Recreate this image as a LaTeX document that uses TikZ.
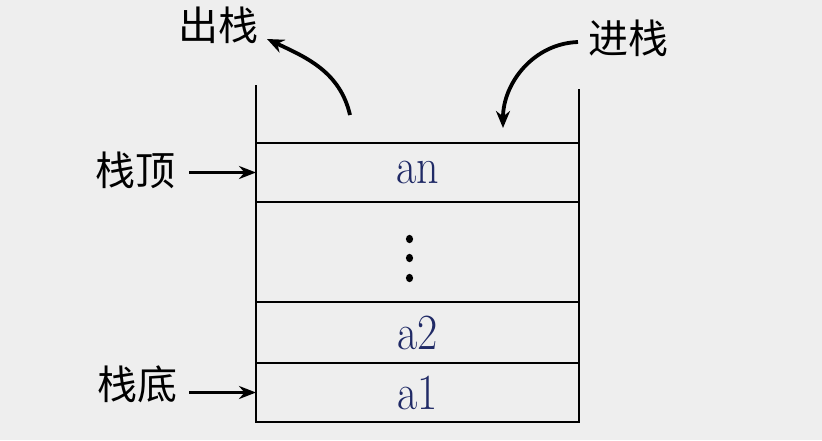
\documentclass[tikz,border=0pt]{standalone}
\usepackage{fontspec}
\newfontfamily\cjk{Noto Sans CJK SC}
\usetikzlibrary{positioning,arrows.meta}
\definecolor{bggray}{RGB}{238,238,238}
\definecolor{cellblue}{RGB}{32,42,102}
\newcommand{\tallt}[1]{\scalebox{1}[1.15]{#1}}
\tikzset{
    cell/.style={draw, line width=1.8pt, outer sep=0pt, inner sep=0pt,
        minimum width=323pt, text=cellblue, font=\fontsize{44}{44}\selectfont},
    tag/.style={inner sep=0pt, font=\cjk\fontsize{40}{40}\selectfont},
    wall/.style={line width=1.8pt},
    push/.style={line width=3.8pt, -{Stealth[length=17pt,width=14pt]}},
    point/.style={line width=3.2pt, -{Stealth[length=17pt,width=13pt]}},
}
\begin{document}
\begin{tikzpicture}[x=1pt,y=-1pt]
    \fill[bggray] (0,0) rectangle (822,440);
    \useasboundingbox (0,0) rectangle (822,440);

    \node[cell, minimum height=59pt] (an) at (417.5,172.5) {\tallt{an}};
    \node[cell, minimum height=100pt, below=0pt of an] (dots) {};
    \node[cell, minimum height=61pt, below=0pt of dots] (a2) {\tallt{a2}};
    \node[cell, minimum height=59pt, below=0pt of a2] (a1) {\tallt{a1}};
    \foreach \dy in {-13,6,26}
        \fill ([xshift=-8pt,yshift=-\dy pt]dots.center) ellipse (3.6pt and 4.2pt);

    \coordinate (lefttop) at (256,85);
    \coordinate (righttop) at (579,89);
    \draw[wall] (lefttop) -- (an.north west);
    \draw[wall] (righttop) -- (an.north east);

    \node[tag] (top) at (135,170) {栈顶};
    \node[tag] (bottom) at (137,384) {栈底};
    \node[tag] (pop) at (218,25) {出栈};
    \node[tag] (pushtag) at (628,38) {进栈};

    \coordinate (popstart) at (350,115);
    \coordinate (popend) at (267,39);
    \coordinate (pushstart) at (578,42);
    \coordinate (pushend) at (503,128);

    \draw[point] ([xshift=14pt]top.east |- an.west) -- (an.west);
    \draw[point] ([xshift=12pt]bottom.east |- a1.west) -- (a1.west);
    \draw[push] (popstart) to[out=103, in=-25] (popend);
    \draw[push] (pushstart) to[out=182, in=90] (pushend);
\end{tikzpicture}
\end{document}
